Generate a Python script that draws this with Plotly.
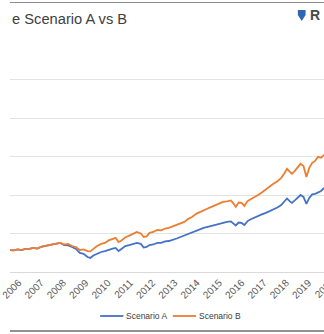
import plotly.graph_objects as go

# decimal-year positions and index values (gridlines every 200 units)
dates = [2005.61, 2005.78, 2005.96, 2006.13, 2006.30, 2006.48, 2006.65, 2006.83,
         2007.00, 2007.17, 2007.35, 2007.52, 2007.70, 2007.87, 2008.04, 2008.22,
         2008.39, 2008.57, 2008.74, 2008.91, 2009.09, 2009.22, 2009.35, 2009.52,
         2009.70, 2009.87, 2010.04, 2010.22, 2010.35, 2010.48, 2010.61, 2010.78,
         2010.96, 2011.13, 2011.30, 2011.48, 2011.61, 2011.74, 2011.87, 2012.04,
         2012.22, 2012.39, 2012.57, 2012.74, 2012.91, 2013.09, 2013.26, 2013.43,
         2013.61, 2013.78, 2013.96, 2014.13, 2014.30, 2014.48, 2014.65, 2014.83,
         2015.00, 2015.17, 2015.35, 2015.52, 2015.65, 2015.74, 2015.87, 2016.00,
         2016.13, 2016.26, 2016.39, 2016.57, 2016.74, 2016.91, 2017.09, 2017.26,
         2017.43, 2017.61, 2017.78, 2017.91, 2018.04, 2018.17, 2018.26, 2018.39,
         2018.52, 2018.65, 2018.78, 2018.91, 2019.04, 2019.17, 2019.30, 2019.43,
         2019.57, 2019.70]

scenario_a = [114, 112, 117, 114, 120, 120, 125, 122, 130, 133, 140, 143, 148, 151,
              140, 138, 130, 120, 99, 94, 78, 73, 86, 96, 104, 109, 117, 122, 125,
              109, 120, 135, 140, 146, 151, 146, 127, 130, 140, 143, 151, 151, 159,
              161, 166, 174, 182, 190, 200, 208, 216, 221, 229, 234, 239, 244, 250,
              257, 260, 263, 252, 242, 257, 255, 244, 263, 273, 283, 291, 299, 307,
              315, 325, 335, 348, 364, 382, 367, 359, 372, 385, 400, 390, 354, 385,
              403, 406, 413, 421, 437]

scenario_b = [114, 112, 117, 114, 120, 120, 125, 122, 130, 133, 140, 143, 148, 151,
              143, 146, 135, 130, 114, 117, 109, 107, 120, 135, 146, 151, 164, 172,
              177, 156, 164, 179, 187, 198, 208, 200, 182, 185, 203, 208, 218, 216,
              226, 229, 237, 244, 252, 260, 276, 286, 302, 312, 322, 330, 338, 348,
              354, 364, 367, 372, 354, 338, 361, 359, 343, 367, 377, 387, 400, 413,
              429, 445, 458, 471, 489, 510, 536, 520, 510, 525, 541, 562, 551, 494,
              541, 567, 577, 598, 593, 608]

tick_years = list(range(2006, 2020))
tick_labels = [str(y) for y in tick_years]
series_names = ["Scenario A", "Scenario B"]
series_colors = ["#4472C4", "#ED7D31"]

fig = go.Figure()
for name, vals, col in zip(series_names, [scenario_a, scenario_b], series_colors):
    fig.add_trace(go.Scatter(x=dates, y=vals, mode="lines", name=name,
                             line=dict(color=col, width=1.8), showlegend=False))

H = 231.0  # plot height in px


def py(p):
    return (272 - p) / H


def px(x):
    return x / 324.0


annotations = [
    dict(text="e Scenario A vs B", x=0, xref="paper", xanchor="left",
         y=py(19), yref="paper", yanchor="middle", showarrow=False,
         font=dict(size=14.7, color="#404040", family="Liberation Sans, Arial")),
    dict(text="<b>R</b>", x=px(308), xref="paper", xanchor="left",
         y=py(15), yref="paper", yanchor="middle", showarrow=False,
         font=dict(size=14, color="#4a4a4a", family="Liberation Sans, Arial")),
    dict(text="2020", x=px(324), xref="paper", xanchor="center",
         y=py(288), yref="paper", yanchor="middle", showarrow=False, textangle=-45,
         font=dict(size=10, color="#595959", family="Liberation Sans, Arial")),
]
shapes = [
    dict(type="line", xref="paper", yref="paper", x0=0, x1=1, y0=py(2.5), y1=py(2.5),
         line=dict(color="#8c8c8c", width=1.2)),
    dict(type="line", xref="paper", yref="paper", x0=0, x1=1, y0=py(331), y1=py(331),
         line=dict(color="#6e6e6e", width=1.5)),
    dict(type="path", xref="paper", yref="paper", fillcolor="#2f66b3",
         line=dict(width=0),
         path=f"M {px(297)} {py(10)} L {px(305)} {py(10)} L {px(305)} {py(15)} "
              f"L {px(301)} {py(21)} L {px(297)} {py(15)} Z"),
]

# manual legend
leg_x = [93, 168]
for name, col, lx in zip(series_names, series_colors, leg_x):
    shapes.append(dict(type="line", xref="paper", yref="paper",
                       x0=px(lx), x1=px(lx + 24), y0=py(316), y1=py(316),
                       line=dict(color=col, width=1.8)))
    annotations.append(dict(text=name, x=px(lx + 25), xref="paper", xanchor="left",
                            y=py(316), yref="paper", yanchor="middle", showarrow=False,
                            font=dict(size=8.5, color="#404040",
                                      family="Liberation Sans, Arial")))

fig.update_layout(
    width=324, height=334,
    margin=dict(l=0, r=0, t=41, b=62),
    paper_bgcolor="white", plot_bgcolor="white",
    font=dict(family="Liberation Sans, Arial, sans-serif", color="#595959"),
    showlegend=False,
    xaxis=dict(range=[2005.61, 2019.70], tickmode="array", tickvals=tick_years,
               ticktext=tick_labels, tickangle=-45, tickfont=dict(size=10, color="#595959"),
               ticklabeloverflow="allow",
               showgrid=False, zeroline=False, showline=True, linecolor="#D9D9D9",
               linewidth=1, ticks=""),
    yaxis=dict(range=[0, 1200], dtick=200, showticklabels=False, showgrid=True,
               gridcolor="#E3E3E3", gridwidth=1, zeroline=False),
    annotations=annotations,
    shapes=shapes,
)

fig.write_html("out.html")
